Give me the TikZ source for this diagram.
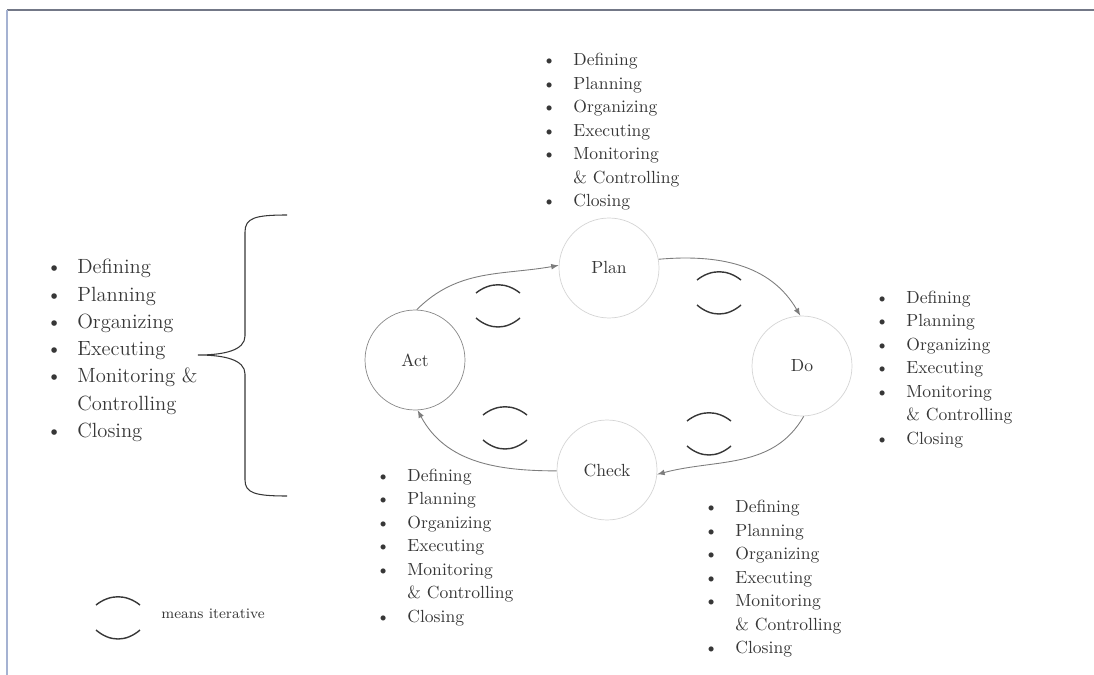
\documentclass[tikz,border=0pt]{standalone}
\definecolor{inkgray}{RGB}{55,55,55}
\definecolor{ringgray}{RGB}{212,212,212}
\definecolor{actgray}{RGB}{135,135,135}
\definecolor{flowgray}{RGB}{125,125,125}
\definecolor{framegray}{RGB}{115,120,135}
\definecolor{frameblue}{RGB}{165,178,210}
\usepackage{xcolor}
\usepackage{tikz}
\usetikzlibrary{shapes,arrows,positioning,calc}

\newcommand{\listfont}{\fontsize{10}{13.4}\selectfont}
\newcommand{\bigfont}{\fontsize{11.7}{15.5}\selectfont}
\newcommand{\phaselist}{%
  \begin{tabular}[t]{@{}p{0.62cm}@{}l@{}}
    \textbullet & Defining\\
    \textbullet & Planning\\
    \textbullet & Organizing\\
    \textbullet & Executing\\
    \textbullet & Monitoring\\
                & \& Controlling\\
    \textbullet & Closing
  \end{tabular}}

\begin{document}
\begin{tikzpicture}[
            x=0.02cm, y=-0.02cm,
            phase node/.style={circle,draw=ringgray,minimum size=2cm,inner sep=0pt,text=inkgray,font=\listfont},
            list node/.style={anchor=base west,inner sep=0pt,text=inkgray,font=\listfont},
            flow/.style={->,>=latex,draw=flowgray,line width=0.5pt},
            iterpair/.pic={
                \draw[inkgray,line width=0.8pt] (-22,-13) .. controls (-8,-24) and (8,-24) .. (22,-13);
                \draw[inkgray,line width=0.8pt] (-22,12) .. controls (-8,24) and (8,24) .. (22,12);
            }
        ]
            \useasboundingbox (0,0) rectangle (1094,675);
            \draw[framegray,line width=1pt] (7,10) -- (1094,10);
            \draw[frameblue,line width=1pt] (7,10) -- (7,675);

            % the four phases
            \node[phase node] (plan) at (609,268) {Plan};
            \node[phase node] (do) at (802,366) {Do};
            \node[phase node] (check) at (607,470) {Check};
            \node[phase node,draw=actgray] (act) at (415,360) {Act};

            \draw[flow] (act.88) to[out=45,in=190] (plan.177);
            \draw[flow] (plan.10) to[out=5,in=120] (do.92);
            \draw[flow] (do.272) to[out=240,in=15] (check.355);
            \draw[flow] (check.181) to[out=180,in=-62] (act.273);

            \pic (loopa) at (498,306) {iterpair};
            \pic (loopb) at (719,293) {iterpair};
            \pic (loopc) at (505,428) {iterpair};
            \pic (loopd) at (709,434) {iterpair};

            % process groups per phase
            \node[list node] (planlist) at (542,65.5) {\phaselist};
            \node[list node] (dolist) at (875,303) {\phaselist};
            \node[list node] (actlist) at (376,481) {\phaselist};
            \node[list node] (checklist) at (704,512.5) {\phaselist};

            \node[list node,font=\bigfont] (alllist) at (46,274) {%
              \begin{tabular}[t]{@{}p{0.62cm}@{}l@{}}
                \textbullet & Defining\\
                \textbullet & Planning\\
                \textbullet & Organizing\\
                \textbullet & Executing\\
                \textbullet & Monitoring \&\\
                            & Controlling\\
                \textbullet & Closing
              \end{tabular}};
            \draw[inkgray,line width=0.6pt] (287,215) .. controls (255,215) and (245,218) .. (245,232)
                -- (245,336) .. controls (245,350) and (225,355) .. (198,355)
                .. controls (225,355) and (245,360) .. (245,374)
                -- (245,480) .. controls (245,493) and (255,496) .. (287,496);

            % legend
            \pic (loopkey) at (118,618) {iterpair};
            \node[anchor=west,inner sep=0pt,text=inkgray,font=\fontsize{8.3}{10}\selectfont] (legend) at (161,614) {means iterative};
        \end{tikzpicture}
\end{document}
